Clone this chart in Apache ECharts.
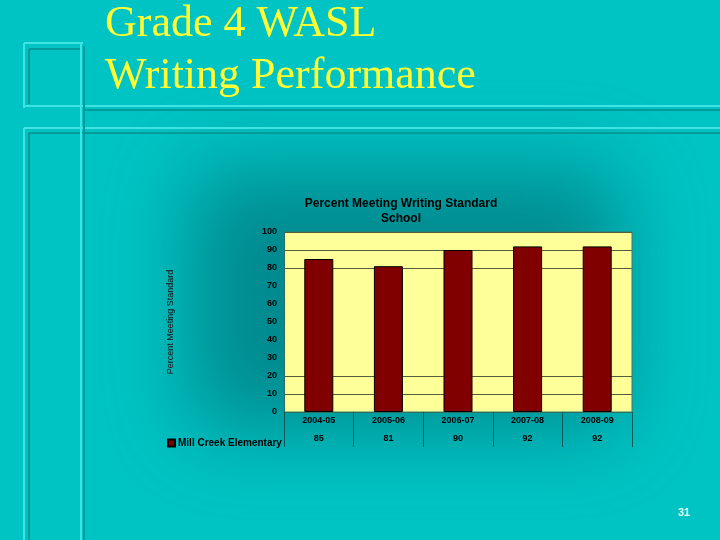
<!DOCTYPE html>
<html>
<head>
<meta charset="utf-8">
<script src="https://cdn.jsdelivr.net/npm/echarts@6/dist/echarts.min.js"></script>
<style>
  html, body { margin: 0; padding: 0; background: #00c4c4; }
  #chart { width: 720px; height: 540px; }
</style>
</head>
<body>
<div id="chart"></div>
<script>
// data
const years = ['2004-05', '2005-06', '2006-07', '2007-08', '2008-09']
const pctMeeting = [85, 81, 90, 92, 92]
const yTicks = [0, 10, 20, 30, 40, 50, 60, 70, 80, 90, 100]
// gridlines that show in the picture (the middle ones are missing there)
const gridValues = [0, 10, 20, 80, 90, 100]

const seriesName = 'Mill Creek Elementary'
const chartTitle = 'Percent Meeting Writing Standard\nSchool'
const yName = 'Percent Meeting Standard'

const light = '#3fe3e3'
const dark = '#009a9a'
const gridDark = '#55603a'

// decorative frame lines on the slide
function ln(x1, y1, x2, y2, color) {
  return { type: 'line', silent: true, z: 1,
    shape: { x1, y1, x2, y2 }, style: { stroke: color, lineWidth: 2 } }
}

const myChart = echarts.init(document.getElementById('chart'))
const option = {
  backgroundColor: 'transparent',
  animation: false,
  textStyle: { fontFamily: 'Liberation Sans, Arial, sans-serif' },
  title: {
    text: chartTitle,
    left: 396,
    top: 191,
    textAlign: 'center',
    textStyle: { fontSize: 12, fontWeight: 'bold', color: '#000', lineHeight: 15 }
  },
  legend: {
    left: 162,
    top: 433,
    icon: 'rect',
    itemWidth: 7,
    itemHeight: 7,
    itemGap: 4,
    textStyle: { fontSize: 10, fontWeight: 'bold', color: '#000', padding: [0, 0, 0, -2] },
    data: [seriesName]
  },
  grid: {
    left: 284, top: 232, width: 348, height: 180,
    show: true, backgroundColor: '#ffff99', borderColor: '#3c7a66', borderWidth: 1
  },
  xAxis: {
    type: 'category',
    data: years,
    axisLine: { show: true, lineStyle: { color: '#2b7060', width: 1 } },
    axisTick: { show: true, inside: false, alignWithLabel: false, length: 35,
      lineStyle: { color: '#055858', width: 1 } },
    axisLabel: {
      interval: 0,
      margin: 0,
      formatter: (v, i) => '{c|' + v + '}\n{v|' + pctMeeting[i] + '}',
      rich: {
        c: { fontSize: 9, fontWeight: 'bold', color: '#000', lineHeight: 18 },
        v: { fontSize: 9, fontWeight: 'bold', color: '#000', lineHeight: 18 }
      }
    }
  },
  yAxis: {
    type: 'value',
    min: 0, max: 100, interval: 10,
    name: yName,
    nameLocation: 'middle',
    nameGap: 109,
    nameTextStyle: { fontSize: 9, color: '#111' },
    axisLine: { show: true, lineStyle: { color: '#2b7060' } },
    axisTick: { show: false },
    axisLabel: { fontSize: 9, fontWeight: 'bold', color: '#000', margin: 7 },
    splitLine: {
      show: true,
      showMinLine: true,
      showMaxLine: true,
      lineStyle: { color: yTicks.map(v => gridValues.includes(v) ? gridDark : 'rgba(0,0,0,0)'), width: 1 }
    }
  },
  series: [{
    name: seriesName,
    type: 'bar',
    data: pctMeeting,
    barWidth: 29,
    itemStyle: { color: '#800000', borderColor: '#000', borderWidth: 1 }
  }],
  graphic: [
    // dark glow behind the chart: only the blurred shadow of an off-screen rect shows
    { type: 'rect', silent: true, z: -10,
      shape: { x: -2000, y: 170, width: 430, height: 260 },
      style: { fill: '#000', shadowBlur: 80, shadowOffsetX: 2000 + 190,
        shadowColor: 'rgba(0,100,108,0.6)' } },
    // slide title
    { type: 'text', left: 105, top: 2, silent: true,
      style: { text: 'Grade 4 WASL', font: '44px "Liberation Serif", "Times New Roman", serif',
        fill: '#ffff33', shadowColor: 'rgba(0,60,60,0.6)', shadowOffsetX: 1, shadowOffsetY: 1 } },
    { type: 'text', left: 105, top: 54, silent: true,
      style: { text: 'Writing Performance', font: '44px "Liberation Serif", "Times New Roman", serif',
        fill: '#ffff33', shadowColor: 'rgba(0,60,60,0.6)', shadowOffsetX: 1, shadowOffsetY: 1 } },
    // page number
    { type: 'text', left: 678, top: 507, silent: true,
      style: { text: '31', font: 'bold 11px "Liberation Sans", Arial, sans-serif', fill: '#e6ffff' } },
    // frame
    ln(24, 43, 83, 43, light), ln(29, 49, 81, 49, dark),
    ln(24, 43, 24, 108, light), ln(29, 49, 29, 104, dark),
    ln(24, 106, 720, 106, light), ln(83, 110, 720, 110, dark),
    ln(24, 128, 720, 128, light), ln(29, 133, 720, 133, dark),
    ln(24, 128, 24, 540, light), ln(29, 133, 29, 540, dark),
    ln(81, 43, 81, 540, light), ln(84, 46, 84, 540, dark)
  ]
}
myChart.setOption(option)
</script>
</body>
</html>
